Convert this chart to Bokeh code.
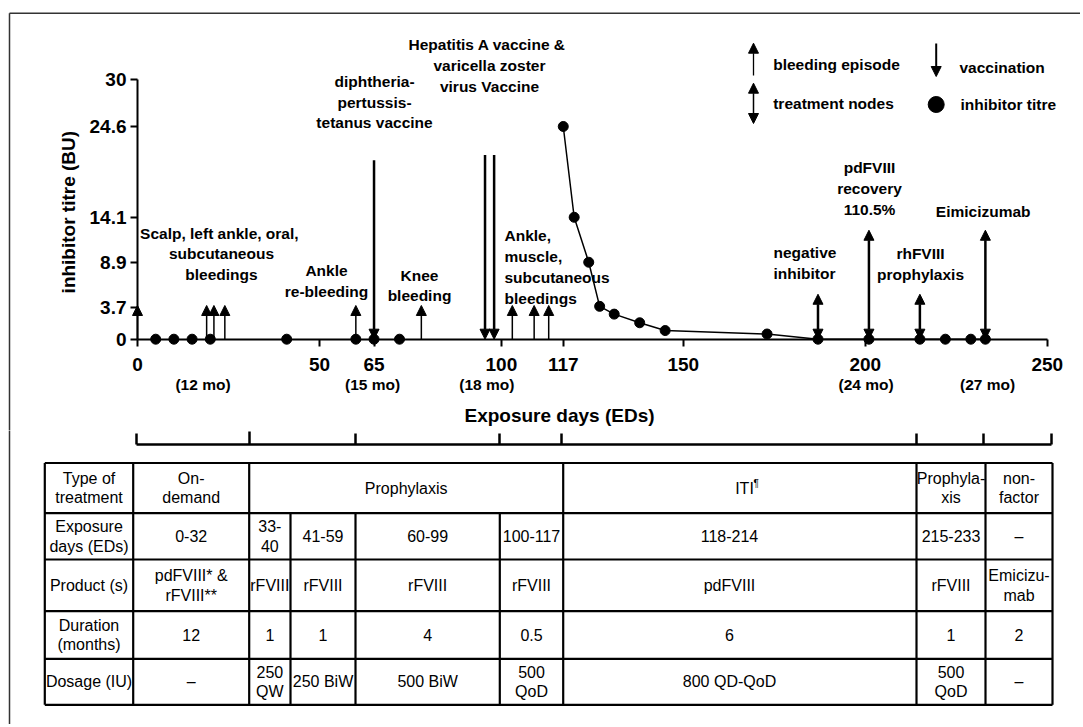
from bokeh.plotting import figure
from bokeh.models import Range1d, LinearAxis, FixedTicker, Arrow, NormalHead, ColumnDataSource
from bokeh.layouts import column
from bokeh.embed import file_html
from bokeh.resources import INLINE
from bokeh.core.properties import value

# ---------------- data ----------------
titre_ed = [5, 10, 15, 20, 41, 60, 65, 72, 117, 120, 124, 127, 131, 138, 145, 173, 187, 201, 215, 222, 229, 233]
titre_bu = [0, 0, 0, 0, 0, 0, 0, 0, 24.6, 14.1, 8.9, 3.8, 2.9, 1.9, 1.0, 0.6, 0, 0, 0, 0, 0, 0]
bleed_ed = [0, 19, 21, 24, 60, 78, 103, 109, 113]
vacc_ed = [65, 95.5, 98]
vacc_top = [20.7, 21.3, 21.3]
node_ed = [187, 201, 215, 233]
node_top = [5.2, 12.6, 5.2, 12.6]
x_ticks = [0, 50, 65, 100, 117, 150, 200, 250]
y_ticks = [0, 3.7, 8.9, 14.1, 24.6, 30]
month_labels = ["(12 mo)", "(15 mo)", "(18 mo)", "(24 mo)", "(27 mo)"]
month_ed = [18, 64.6, 96, 200.2, 233.6]

row_labels = ["Type of\ntreatment", "Exposure\ndays (EDs)", "Product (s)", "Duration\n(months)", "Dosage (IU)"]
treatment_types = ["On-\ndemand", "Prophylaxis", "ITI", "Prophyla-\nxis", "non-\nfactor"]
treatment_span = [(1, 2), (2, 6), (6, 7), (7, 8), (8, 9)]
ed_ranges = ["0-32", "33-\n40", "41-59", "60-99", "100-117", "118-214", "215-233", "–"]
products = ["pdFVIII* &\nrFVIII**", "rFVIII", "rFVIII", "rFVIII", "rFVIII", "pdFVIII", "rFVIII", "Emicizu-\nmab"]
durations = ["12", "1", "1", "4", "0.5", "6", "1", "2"]
dosages = ["–", "250\nQW", "250 BiW", "500 BiW", "500\nQoD", "800 QD-QoD", "500\nQoD", "–"]

# ---------------- layout helpers (page pixels -> data) ----------------
PX0, PXS = 137.0, 3.639
PY0, PYS = 338.7, 8.647
W = 1080
H1 = 430
H2 = 294


def dx(px):
    return (px - PX0) / PXS


def dy(py):
    return (PY0 - py) / PYS


FONT = value("Liberation Sans")
BLEED_LEN = 3.9
AFS = "15.5px"

p1 = figure(width=W, height=H1, x_range=Range1d(dx(0), dx(W)), y_range=Range1d(dy(H1), dy(0)),
            output_backend="svg", toolbar_location=None, x_axis_location=None, y_axis_location=None,
            min_border=0, outline_line_color=None)
p1.grid.visible = False

xaxis = LinearAxis(fixed_location=0, bounds=(0, 250), ticker=FixedTicker(ticks=x_ticks),
                   major_label_overrides={t: str(t) for t in x_ticks})
yaxis = LinearAxis(fixed_location=0, bounds=(0, 30), ticker=FixedTicker(ticks=y_ticks),
                   major_label_overrides={t: ("%g" % t) for t in y_ticks},
                   axis_label="inhibitor  titre (BU)")
for ax in (xaxis, yaxis):
    ax.axis_line_width = 2
    ax.axis_line_color = "black"
    ax.major_tick_out = 7
    ax.major_tick_in = 0
    ax.major_tick_line_width = 2
    ax.major_tick_line_color = "black"
    ax.minor_tick_out = 0
    ax.minor_tick_in = 0
    ax.major_label_text_font = "Liberation Sans"
    ax.major_label_text_font_style = "bold"
    ax.major_label_text_font_size = "19px"
    ax.major_label_text_color = "black"
xaxis.major_label_standoff = 12
yaxis.major_label_standoff = 4
yaxis.axis_label_text_font = "Liberation Sans"
yaxis.axis_label_text_font_style = "bold"
yaxis.axis_label_text_font_size = "19px"
yaxis.axis_label_text_color = "black"
yaxis.axis_label_standoff = 8
p1.add_layout(xaxis, "below")
p1.add_layout(yaxis, "left")

# outer frame (left + top edges)
p1.segment(x0=[dx(9), dx(9)], y0=[dy(12.7), dy(12.7)], x1=[dx(9), dx(W + 10)], y1=[dy(H1 + 20), dy(12.7)],
           line_color="#333333", line_width=1.5)

# titre curve + dots
curve_x = [e for e in titre_ed if e >= 117]
curve_y = [v for e, v in zip(titre_ed, titre_bu) if e >= 117]
p1.line(curve_x, curve_y, line_color="black", line_width=1.5)
p1.scatter(titre_ed, titre_bu, size=10, fill_color="black", line_color="black")


def head():
    return NormalHead(size=10, fill_color="black", line_color="black", line_width=1)


# bleeding arrows
bsrc = ColumnDataSource(dict(x=bleed_ed, y0=[0] * len(bleed_ed), y1=[BLEED_LEN] * len(bleed_ed)))
p1.add_layout(Arrow(end=head(), x_start="x", y_start="y0", x_end="x", y_end="y1", source=bsrc,
                    line_width=1.5, line_color="black"))
# vaccination arrows
vsrc = ColumnDataSource(dict(x=vacc_ed, y0=vacc_top, y1=[0] * len(vacc_ed)))
p1.add_layout(Arrow(end=head(), x_start="x", y_start="y0", x_end="x", y_end="y1", source=vsrc,
                    line_width=2.5, line_color="black"))
# treatment nodes
nsrc = ColumnDataSource(dict(x=node_ed, y0=[0] * len(node_ed), y1=node_top))
p1.add_layout(Arrow(start=head(), end=head(), x_start="x", y_start="y0", x_end="x", y_end="y1", source=nsrc,
                    line_width=2.5, line_color="black"))

# month labels
p1.text(x=month_ed, y=[dy(384)] * len(month_ed), text=month_labels, text_font=FONT, text_font_style="bold",
        text_font_size=AFS, text_align="center", text_baseline="middle", text_color="black")
# x-axis title
p1.text(x=[dx(559)], y=[dy(415)], text=["Exposure days (EDs)"], text_font=FONT, text_font_style="bold",
        text_font_size="19px", text_align="center", text_baseline="middle", text_color="black")

# annotations
ann = [
    ("Scalp,  left ankle, oral,\nsubcutaneous\nbleedings", 221, 253.5, "center"),
    ("Ankle\nre-bleeding", 326, 280.5, "center"),
    ("diphtheria-\npertussis-\ntetanus vaccine", 374, 101.7, "center"),
    ("Hepatitis A  vaccine &\nvaricella zoster\nvirus Vaccine", 489, 64.8, "center"),
    ("Knee\nbleeding", 419, 285, "center"),
    ("Ankle,\nmuscle,\nsubcutaneous\nbleedings", 504, 266.5, "left"),
    ("negative\ninhibitor", 773, 262.5, "left"),
    ("pdFVIII\nrecovery\n110.5%", 869, 188, "center"),
    ("rhFVIII\nprophylaxis", 920, 263.5, "center"),
    ("Eimicizumab", 982.7, 210.7, "center"),
    ("bleeding episode", 772.7, 64, "left"),
    ("treatment nodes", 772.7, 103, "left"),
    ("vaccination", 959, 66.7, "left"),
    ("inhibitor titre", 960, 104, "left"),
]
for t, px, py, al in ann:
    p1.text(x=[dx(px)], y=[dy(py)], text=[t], text_font=FONT, text_font_style="bold", text_font_size=AFS,
            text_align=al, text_baseline="middle", text_line_height=1.22, text_color="black")

# legend symbols
p1.add_layout(Arrow(end=head(), x_start=dx(753), y_start=dy(75), x_end=dx(753), y_end=dy(42.7),
                    line_width=1.3, line_color="black"))
p1.add_layout(Arrow(start=head(), end=head(), x_start=dx(753), y_start=dy(123), x_end=dx(753), y_end=dy(82.7),
                    line_width=1.5, line_color="black"))
p1.add_layout(Arrow(end=head(), x_start=dx(935.7), y_start=dy(43), x_end=dx(935.7), y_end=dy(76),
                    line_width=2, line_color="black"))
p1.scatter([dx(935.7)], [dy(104)], size=16, fill_color="black", line_color="black")

# ---------------- table figure ----------------
TOP = H1
p2 = figure(width=W, height=H2, x_range=Range1d(0, W), y_range=Range1d(TOP + H2, TOP),
            output_backend="svg", toolbar_location=None, x_axis_location=None, y_axis_location=None,
            min_border=0, outline_line_color=None)
p2.grid.visible = False

col_edges = [44.3, 132.7, 248.7, 290, 355, 499.3, 562.7, 916, 985, 1052]
row_edges = [462.5, 512.7, 559, 610.7, 658.3, 704.3]

# frame left edge
p2.segment(x0=[9], y0=[TOP - 2], x1=[9], y1=[TOP + H2 + 2], line_color="#333333", line_width=1.5)

# bracket
br_ticks = [136, 249, 355, 499, 561, 916, 983, 1051]
br_top = [433, 431, 433, 433, 433, 433, 433, 433]
p2.segment(x0=[136], y0=[444], x1=[1051], y1=[444], line_color="black", line_width=2.5)
p2.segment(x0=br_ticks, y0=[444] * len(br_ticks), x1=br_ticks, y1=br_top, line_color="black", line_width=2.5)

# grid lines
hx0, hy0, hx1, hy1 = [], [], [], []
for r in row_edges:
    hx0.append(col_edges[0]); hx1.append(col_edges[-1]); hy0.append(r); hy1.append(r)
for i, c in enumerate(col_edges):
    start = row_edges[1] if i in (3, 4, 5) else row_edges[0]
    hx0.append(c); hx1.append(c); hy0.append(start); hy1.append(row_edges[-1])
p2.segment(x0=hx0, y0=hy0, x1=hx1, y1=hy1, line_color="black", line_width=2.2)

# texts
tx, ty, tt = [], [], []


def cx(i):
    return (col_edges[i] + col_edges[i + 1]) / 2


def cy(r):
    return (row_edges[r] + row_edges[r + 1]) / 2


for r, lab in enumerate(row_labels):
    tx.append(cx(0)); ty.append(cy(r)); tt.append(lab)
for lab, (a, b) in zip(treatment_types, treatment_span):
    if lab == "ITI":
        continue
    tx.append((col_edges[a] + col_edges[b]) / 2); ty.append(cy(0)); tt.append(lab)
for r, row in enumerate([ed_ranges, products, durations, dosages], start=1):
    for j, lab in enumerate(row):
        ci = j + 1
        x = 729 if ci == 6 else cx(ci)
        tx.append(x); ty.append(cy(r)); tt.append(lab)
TFS = "16px"
p2.text(x=tx, y=ty, text=tt, text_font=FONT, text_font_size=TFS, text_align="center",
        text_baseline="middle", text_line_height=1.15, text_color="black")
p2.text(x=[744], y=[cy(0)], text=["ITI"], text_font=FONT, text_font_size=TFS, text_align="center",
        text_baseline="middle", text_color="black")
p2.text(x=[753], y=[cy(0) - 5], text=["¶"], text_font=FONT, text_font_size="10px", text_align="left",
        text_baseline="middle", text_color="black")

layout = column(p1, p2, spacing=0)
open("out.html", "w").write(file_html(layout, INLINE))
